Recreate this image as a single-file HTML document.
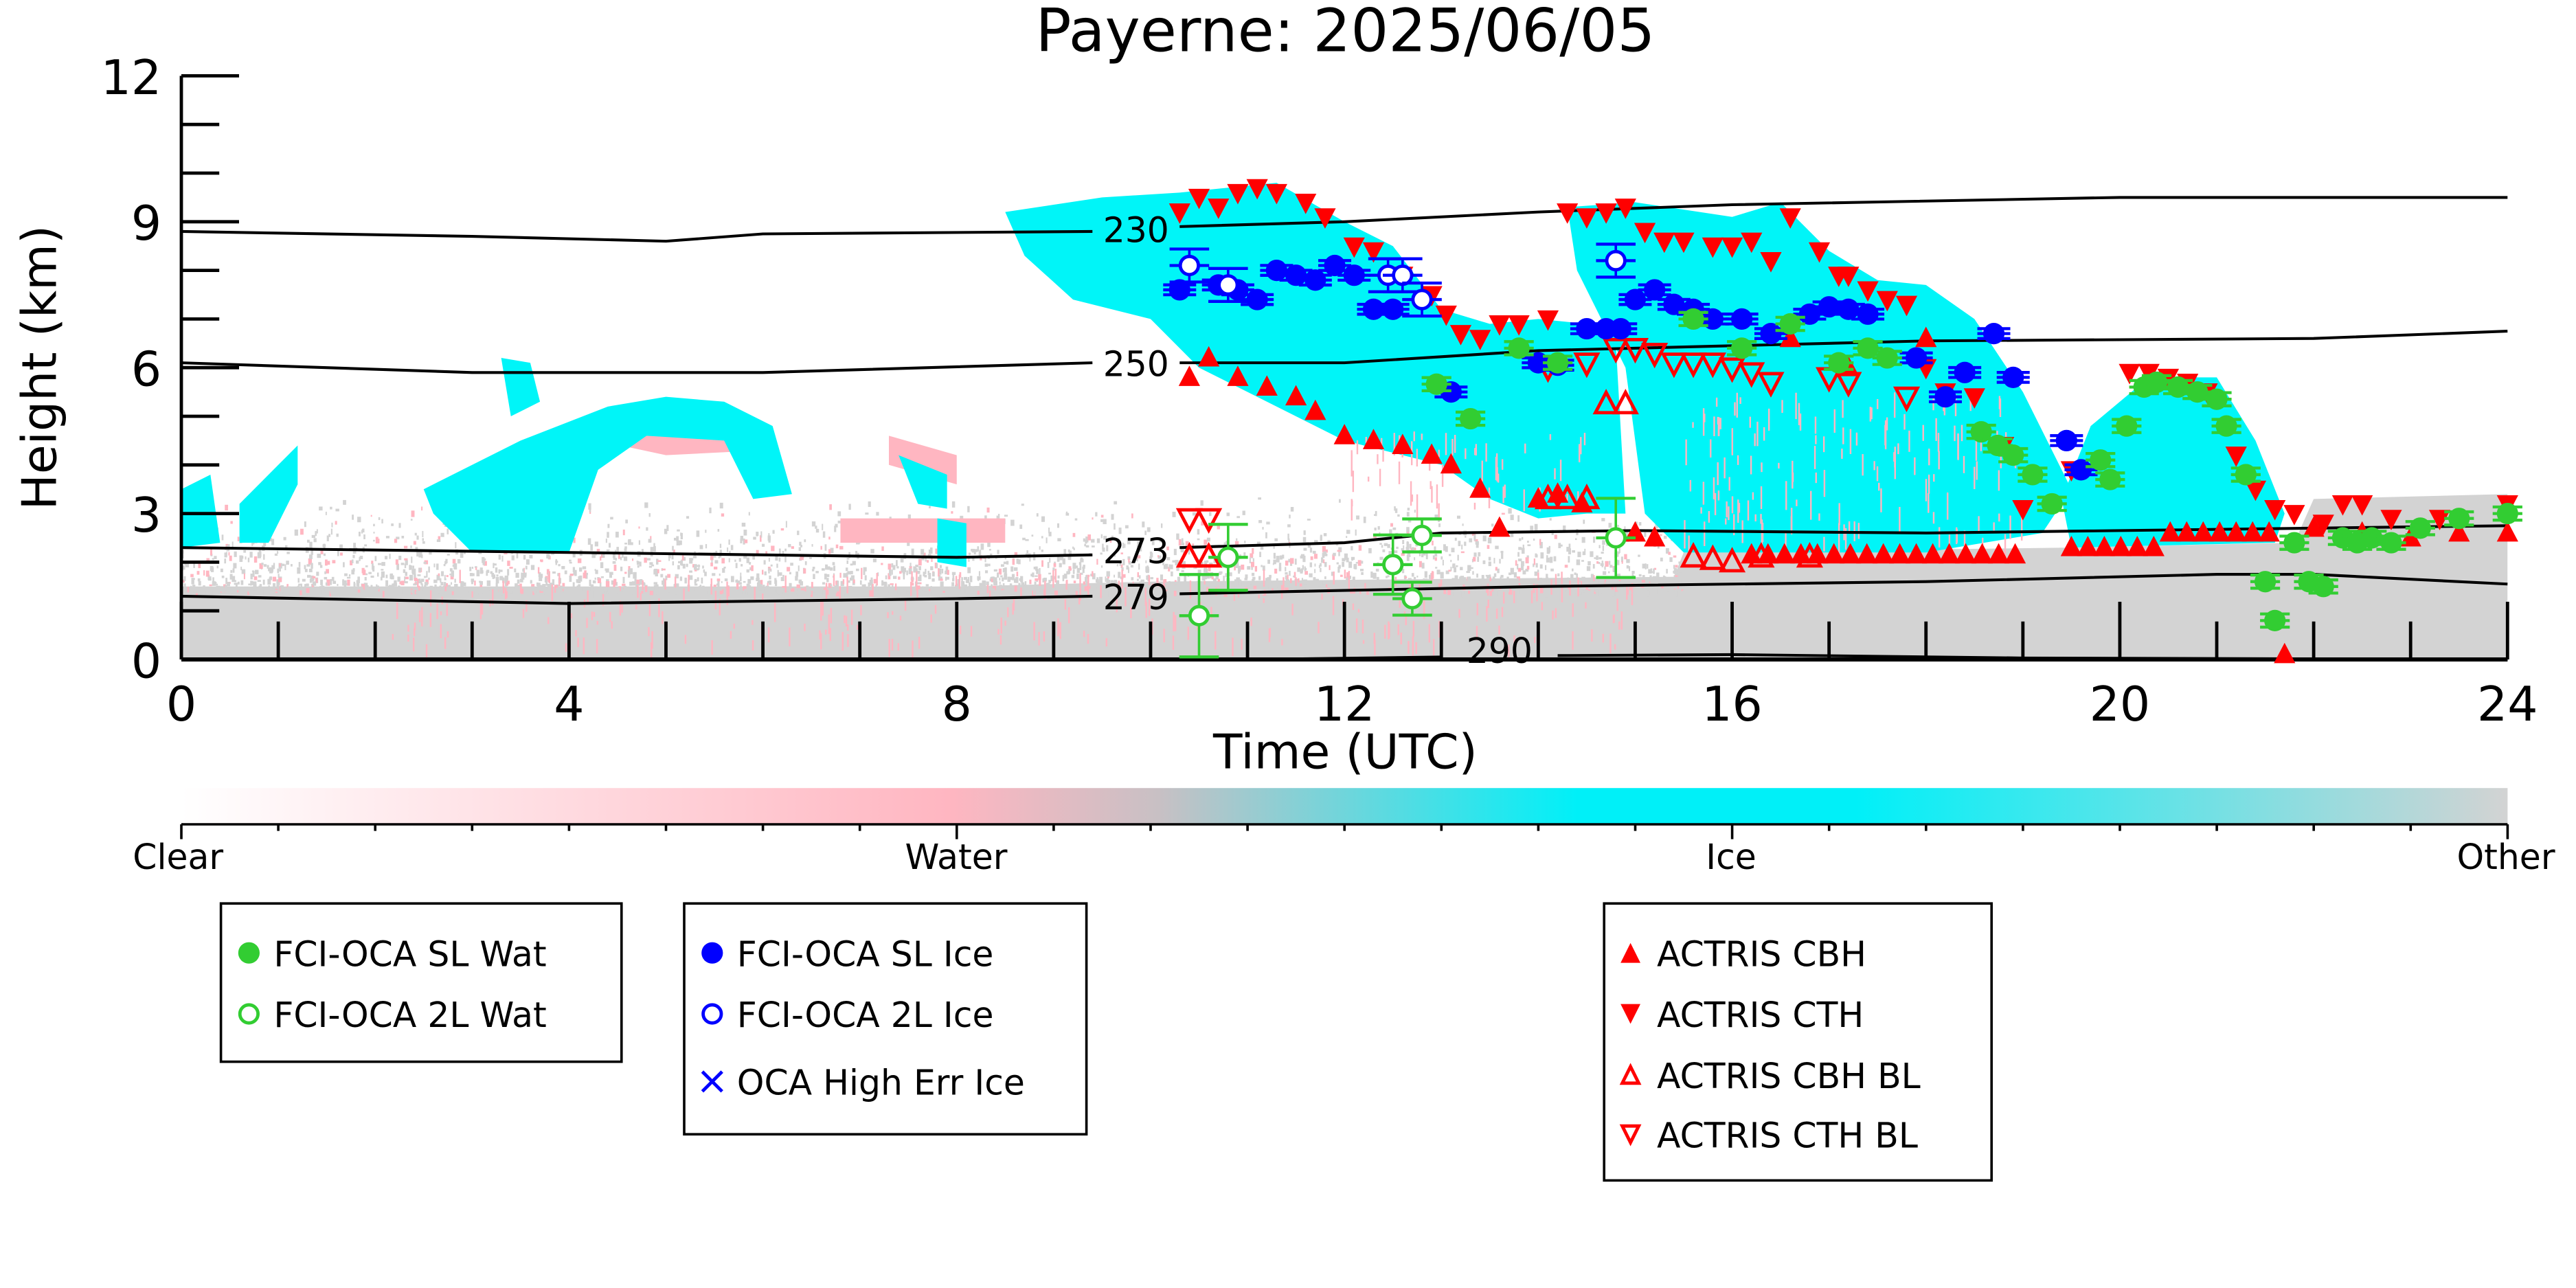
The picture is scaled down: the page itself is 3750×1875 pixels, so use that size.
<!DOCTYPE html>
<html><head><meta charset="utf-8"><style>
html,body{margin:0;padding:0;background:#fff;}
svg{display:block;font-family:"DejaVu Sans","Liberation Sans",sans-serif;}
</style></head><body>
<svg id="s" width="3750" height="1875" viewBox="0 0 1562.5 781.25" xmlns="http://www.w3.org/2000/svg">
<defs>
<linearGradient id="cb" x1="0" x2="1" y1="0" y2="0">
<stop offset="0" stop-color="#ffffff"/><stop offset="0.33" stop-color="#ffb6c1"/>
<stop offset="0.42" stop-color="#c8c0c4"/><stop offset="0.6" stop-color="#00f0f8"/>
<stop offset="0.72" stop-color="#00f0f8"/><stop offset="1" stop-color="#d3d3d3"/>
</linearGradient>
<clipPath id="ax"><rect x="110" y="46" width="1411" height="354"/></clipPath>
</defs>
<g id="plot" clip-path="url(#ax)"></g>
<g id="top"></g>
<text x="816" y="31" font-size="36" text-anchor="middle">Payerne: 2025/06/05</text>
<text transform="translate(34,223) rotate(-90)" font-size="29" text-anchor="middle">Height (km)</text>
<text x="816" y="466" font-size="29" text-anchor="middle">Time (UTC)</text>
<rect x="110" y="478" width="1411" height="22" fill="url(#cb)"/>
<line x1="110" y1="500" x2="1521" y2="500" stroke="#000" stroke-width="1.5"/>
<g id="cbt"></g>
<g font-size="21" text-anchor="middle">
<text x="108" y="527">Clear</text><text x="580" y="527">Water</text><text x="1050" y="527">Ice</text><text x="1520" y="527">Other</text>
</g>
<g font-size="21" fill="none" stroke="#000" stroke-width="1.5">
<rect x="134" y="548" width="243" height="96"/>
<rect x="415" y="548" width="244" height="140"/>
<rect x="973" y="548" width="235" height="168"/>
</g>
<g font-size="21">
<circle cx="151" cy="578" r="6.5" fill="#32cd32"/><text x="166" y="586">FCI-OCA SL Wat</text>
<circle cx="151" cy="615" r="5.5" fill="none" stroke="#32cd32" stroke-width="2"/><text x="166" y="623">FCI-OCA 2L Wat</text>
<circle cx="432" cy="578" r="6.5" fill="#0000ff"/><text x="447" y="586">FCI-OCA SL Ice</text>
<circle cx="432" cy="615" r="5.5" fill="none" stroke="#0000ff" stroke-width="2"/><text x="447" y="623">FCI-OCA 2L Ice</text>
<path d="M426 650 L438 662 M438 650 L426 662" stroke="#0000ff" stroke-width="2"/><text x="447" y="664">OCA High Err Ice</text>
<path d="M983 584 L995 584 L989 572 Z" fill="#ff0000"/><text x="1005" y="586">ACTRIS CBH</text>
<path d="M983 609 L995 609 L989 621 Z" fill="#ff0000"/><text x="1005" y="623">ACTRIS CTH</text>
<path d="M984 657 L994 657 L989 647 Z" fill="none" stroke="#ff0000" stroke-width="2"/><text x="1005" y="660">ACTRIS CBH BL</text>
<path d="M984 683 L994 683 L989 693 Z" fill="none" stroke="#ff0000" stroke-width="2"/><text x="1005" y="696">ACTRIS CTH BL</text>
</g>
</svg>
<script>
const NS="http://www.w3.org/2000/svg";
const X=t=>110+58.79*t, Y=h=>400-29.5*h;
function el(p,n,a){const e=document.createElementNS(NS,n);for(const k in a)e.setAttribute(k,a[k]);p.appendChild(e);return e;}
const P=document.getElementById('plot'),T=document.getElementById('top');
let seed=7;const R=()=>{seed=(seed*16807)%2147483647;return seed/2147483647;};
function poly(pts,fill,g){el(g||P,'polygon',{points:pts.map(p=>X(p[0])+','+Y(p[1])).join(' '),fill:fill});}
// gray ground
poly([[0,0],[0,1.5],[4,1.5],[8,1.5],[10,1.6],[15.4,1.7],[15.5,2.2],[19.5,2.3],[21.8,2.4],[22,3.3],[24,3.4],[24,0]],'#d3d3d3');
// speckled gray/pink above ground early
for(let i=0;i<3000;i++){const t=R()*15.5,h=1.4+R()*R()*2.0;el(P,'rect',{x:X(t),y:Y(h),width:0.8+R()*1.5,height:1+R()*3,fill:R()<0.15?'#ffb6c1':'#d3d3d3'});}
for(let i=0;i<300;i++){const t=2+R()*13,h=0.3+R()*1.6;el(P,'rect',{x:X(t),y:Y(h),width:1,height:2+R()*10,fill:'#ffb6c1'});}
// pink patches
poly([[4.3,4.5],[5,5],[6,4.9],[6,4.3],[5,4.2]],'#ffb6c1');
poly([[7.3,4.6],[8,4.2],[8,3.6],[7.3,4.0]],'#ffb6c1');
poly([[6.8,2.4],[8.5,2.4],[8.5,2.9],[6.8,2.9]],'#ffb6c1');
// cyan ice regions
const C='#00f5f8';
poly([[8.5,9.2],[9.5,9.5],[10.3,9.6],[11.3,9.8],[12,9],[12.5,8.5],[13,7.2],[13.5,6.9],[14,7],[14.5,6.9],[14.8,6.5],[14.9,3],[14.5,3],[14,2.9],[13.5,3.3],[13,4],[12,4.5],[11.5,5],[10.5,6],[10,7],[9.2,7.4],[8.7,8.3]],C);
poly([[14.3,9.3],[15,9.4],[16,9.1],[16.5,9.4],[17,8.4],[17.5,7.8],[18,7.7],[18.5,7],[19,5.5],[19.5,3.5],[19.2,2.6],[18,2.2],[15.5,2.2],[15.1,3],[14.9,6],[14.4,8]],C);
poly([[19.7,4.8],[20.3,5.8],[21,5.8],[21.4,4.5],[21.7,3],[21.6,2.4],[19.5,2.3],[19.4,3.3]],C);
poly([[3.3,6.2],[3.6,6.1],[3.7,5.3],[3.4,5.0]],C);
poly([[2.5,3.5],[3.5,4.5],[4.4,5.2],[5,5.4],[5.6,5.3],[6.1,4.8],[6.3,3.4],[5.9,3.3],[5.6,4.5],[4.8,4.6],[4.3,3.9],[4,2.2],[3,2.2],[2.6,3]],C);
poly([[0.6,3.2],[1,4.0],[1.2,4.4],[1.2,3.6],[0.9,2.4],[0.6,2.4]],C);
poly([[0,3.5],[0.3,3.8],[0.4,2.4],[0,2.3]],C);
poly([[7.4,4.2],[7.9,3.8],[7.9,3.1],[7.6,3.2]],C);
poly([[7.8,2.9],[8.1,2.8],[8.1,1.9],[7.8,2]],C);
// pink streaks inside ice
for(let i=0;i<150;i++){const t=15.5+R()*3.5,h=2.5+R()*3;el(P,'rect',{x:X(t),y:Y(h),width:1,height:3+R()*15,fill:'#ffb6c1'});}
for(let i=0;i<60;i++){const t=12+R()*2.5,h=3.2+R()*1.5;el(P,'rect',{x:X(t),y:Y(h),width:1,height:3+R()*12,fill:'#ffb6c1'});}
// ticks
const A=T;
el(A,'line',{x1:110,y1:46,x2:110,y2:400,stroke:'#000','stroke-width':2});
el(A,'line',{x1:110,y1:400,x2:1521,y2:400,stroke:'#000','stroke-width':2.5});
for(let h=0;h<=12;h++){const big=h%3==0;el(A,'line',{x1:110,y1:Y(h),x2:big?145:133,y2:Y(h),stroke:'#000','stroke-width':2});
 if(big)el(A,'text',{x:98,y:Y(h)+11,'font-size':29,'text-anchor':'end'}).textContent=h;}
for(let t=0;t<=24;t++){const big=t%4==0;el(A,'line',{x1:X(t),y1:400,x2:X(t),y2:big?365:377,stroke:'#000','stroke-width':2});
 if(big)el(A,'text',{x:X(t),y:437,'font-size':29,'text-anchor':'middle'}).textContent=t;}
const cbt=document.getElementById('cbt');
for(let i=0;i<=24;i++){const x=110+i*1411/24;el(cbt,'line',{x1:x,y1:500,x2:x,y2:i%8==0?509:504,stroke:'#000','stroke-width':1.5});}
// contours
function line(pts){el(T,'polyline',{points:pts.map(p=>X(p[0])+','+Y(p[1])).join(' '),fill:'none',stroke:'#000','stroke-width':1.7});}
line([[0,8.8],[3,8.7],[5,8.6],[6,8.75],[9.4,8.8]]);line([[10.3,8.9],[12,9.0],[14,9.2],[16,9.35],[20,9.5],[24,9.5]]);
line([[0,6.1],[3,5.9],[6,5.9],[9.4,6.1]]);line([[10.3,6.1],[12,6.1],[14,6.35],[18,6.55],[22,6.6],[24,6.75]]);
line([[0,2.3],[4,2.2],[8,2.1],[9.4,2.15]]);line([[10.3,2.3],[12,2.4],[13,2.6],[15,2.65],[18,2.6],[24,2.75]]);
line([[0,1.3],[4,1.15],[8,1.25],[9.4,1.3]]);line([[10.3,1.35],[14,1.5],[18,1.6],[21,1.75],[22,1.75],[24,1.55]]);
line([[11,0],[13,0.05]]);line([[14.2,0.08],[16,0.1],[19,0.03],[24,0]]);
[[230,8.85],[250,6.1],[273,2.25],[279,1.3]].forEach(a=>{el(T,'text',{x:X(9.85),y:Y(a[1])+8,'font-size':21,'text-anchor':'middle'}).textContent=a[0];});
el(T,'text',{x:X(13.6),y:Y(0.1)+5,'font-size':21,'text-anchor':'middle'}).textContent='290';
// markers
function tri(t,h,up,fill){const x=X(t),y=Y(h),s=6.5;const d=up?`M${x-s} ${y+s*0.8} L${x+s} ${y+s*0.8} L${x} ${y-s*1.1}Z`:`M${x-s} ${y-s*0.8} L${x+s} ${y-s*0.8} L${x} ${y+s*1.1}Z`;
 el(T,'path',fill?{d:d,fill:'#ff0000'}:{d:d,fill:'none',stroke:'#ff0000','stroke-width':2});}
const CTH=[[10.3,9.2],[10.5,9.5],[10.7,9.3],[10.9,9.6],[11.1,9.7],[11.3,9.6],[11.6,9.4],[11.8,9.1],[12.1,8.5],[12.3,8.4],[12.6,7.9],[12.9,7.5],[13.05,7.1],[13.2,6.7],[13.4,6.6],[13.6,6.9],[13.8,6.9],[14.1,7.0],[14.3,9.2],[14.5,9.1],[14.7,9.2],[14.9,9.3],[15.1,8.8],[15.3,8.6],[15.5,8.6],[15.8,8.5],[16.0,8.5],[16.2,8.6],[16.4,8.2],[16.6,9.1],[16.9,8.4],[17.1,7.9],[17.2,7.9],[17.4,7.6],[17.6,7.4],[17.8,7.3],[18.0,6.0],[18.2,5.5],[18.5,5.4],[18.8,4.4],[19.0,3.1],[19.5,3.9],[20.1,5.9],[20.3,5.9],[20.5,5.8],[20.7,5.7],[20.9,5.5],[21.2,4.2],[21.4,3.5],[21.6,3.1],[21.8,3.0],[22.1,2.8],[22.3,3.2],[22.5,3.2],[22.8,2.9],[23.3,2.9],[24,3.2]];
CTH.forEach(p=>tri(p[0],p[1],false,true));
[[10.4,2.9],[10.6,2.9],[14.1,6.0],[14.5,6.1],[14.8,6.4],[15.0,6.4],[15.2,6.3],[15.4,6.1],[15.6,6.1],[15.8,6.1],[16.0,6.0],[16.2,5.9],[16.4,5.7],[17.0,5.8],[17.2,5.7],[17.8,5.4]].forEach(p=>tri(p[0],p[1],false,false));
const CBH=[[10.4,5.8],[10.6,6.2],[10.9,5.8],[11.2,5.6],[11.5,5.4],[11.7,5.1],[12.0,4.6],[12.3,4.5],[12.6,4.4],[12.9,4.2],[13.1,4.0],[13.4,3.5],[13.6,2.7],[14.0,3.3],[14.2,3.4],[14.45,3.2],[15.0,2.6],[15.2,2.5],[16.6,6.6],[17.2,6.0],[18.0,6.6]];
for(let t=16.2;t<19.05;t+=0.17)CBH.push([t,2.15]);
for(let t=19.5;t<21.6;t+=0.17)CBH.push([t,2.3+0.3*(t>20.4)]);
[[21.7,0.1],[22.0,2.7],[22.5,2.6],[23.0,2.5],[23.5,2.6],[24,2.6]].forEach(p=>CBH.push(p));
CBH.forEach(p=>tri(p[0],p[1],true,true));
[[10.4,2.1],[10.6,2.1],[14.7,5.25],[14.9,5.25],[14.5,3.3],[14.3,3.3],[14.1,3.3],[15.6,2.1],[15.8,2.05],[16.0,2.0],[16.3,2.1],[16.8,2.1]].forEach(p=>tri(p[0],p[1],true,false));
function dot(t,h,col,fill,eh,ev){const x=X(t),y=Y(h);
 if(eh){el(T,'line',{x1:x-eh,y1:y,x2:x+eh,y2:y,stroke:col,'stroke-width':1.8});el(T,'line',{x1:x,y1:y-ev,x2:x,y2:y+ev,stroke:col,'stroke-width':1.5});
 el(T,'line',{x1:x-eh,y1:y-ev,x2:x+eh,y2:y-ev,stroke:col,'stroke-width':1.8});el(T,'line',{x1:x-eh,y1:y+ev,x2:x+eh,y2:y+ev,stroke:col,'stroke-width':1.8});}
 el(T,'circle',fill?{cx:x,cy:y,r:6.5,fill:col}:{cx:x,cy:y,r:5.5,fill:'#fff',stroke:col,'stroke-width':2});}
const B='#0000ff',G='#32cd32';
[[10.3,7.6],[10.7,7.7],[10.9,7.6],[11.1,7.4],[11.3,8.0],[11.5,7.9],[11.7,7.8],[11.9,8.1],[12.1,7.9],[12.3,7.2],[12.5,7.2],[13.1,5.5],[14.0,6.1],[14.2,6.05],[14.5,6.8],[14.7,6.8],[14.85,6.8],[15.0,7.4],[15.2,7.6],[15.4,7.3],[15.6,7.2],[15.8,7.0],[16.1,7.0],[16.4,6.7],[16.8,7.1],[17.0,7.25],[17.2,7.2],[17.4,7.1],[17.9,6.2],[18.2,5.4],[18.4,5.9],[18.7,6.7],[18.9,5.8],[19.45,4.5],[19.6,3.9]].forEach(p=>dot(p[0],p[1],B,true,10,3));
[[10.4,8.1],[10.8,7.7],[12.45,7.9],[12.6,7.9],[12.8,7.4],[14.8,8.2]].forEach(p=>dot(p[0],p[1],B,false,12,10));
[[12.95,5.66],[13.3,4.95],[13.8,6.4],[14.2,6.1],[15.6,7.0],[16.1,6.4],[16.6,6.9],[17.1,6.1],[17.4,6.4],[17.6,6.2],[18.57,4.68],[18.74,4.4],[18.9,4.2],[19.1,3.8],[19.3,3.2],[19.8,4.1],[20.07,4.8],[19.9,3.7],[20.25,5.6],[20.38,5.7],[20.6,5.6],[20.8,5.5],[21.0,5.35],[21.1,4.8],[21.3,3.8],[21.5,1.6],[21.6,0.8],[21.8,2.4],[21.95,1.6],[22.1,1.5],[22.3,2.5],[22.45,2.4],[22.6,2.5],[22.8,2.4],[23.1,2.7],[23.5,2.9],[24,3.0]].forEach(p=>dot(p[0],p[1],G,true,9,4));
[[10.5,0.9,25],[10.8,2.1,20],[12.5,1.95,18],[12.7,1.25,10],[12.8,2.55,10],[14.8,2.5,24]].forEach(p=>dot(p[0],p[1],G,false,12,p[2]));
</script>
</body></html>
